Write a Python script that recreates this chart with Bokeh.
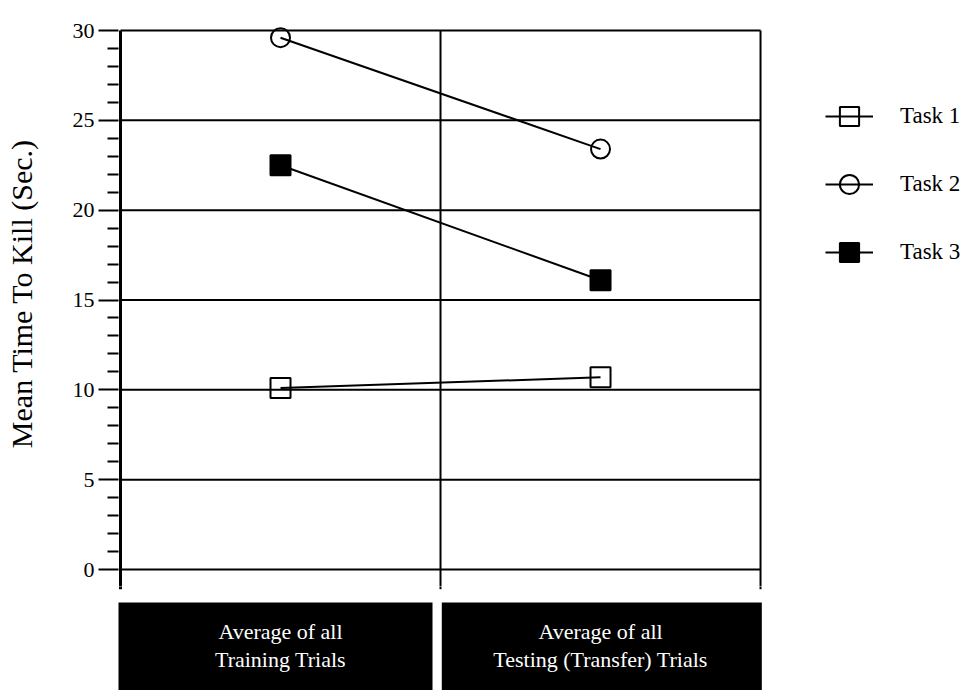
from bokeh.plotting import figure
from bokeh.layouts import column
from bokeh.models import Range1d, FixedTicker, Legend, LegendItem
from bokeh.embed import file_html
from bokeh.resources import INLINE
from bokeh.core.properties import value

# ---- data ----
categories = ["Average of all\nTraining Trials", "Average of all\nTesting (Transfer) Trials"]
task1 = [10.1, 10.7]
task2 = [29.6, 23.4]
task3 = [22.5, 16.1]
series_names = ["Task 1", "Task 2", "Task 3"]
y_ticks = [0, 5, 10, 15, 20, 25, 30]
y_minor = [v for v in range(0, 31) if v % 5]
y_title = "Mean Time To Kill (Sec.)"

FONT = "Liberation Serif"
n = len(categories)
x_pos = [i + 0.5 for i in range(n)]
bounds = list(range(n + 1))

PX = 17.97       # pixels per unit on the y scale
MAIN_H = 586
STRIP_H = 690 - MAIN_H
x_range = Range1d(-0.00625, 2.653)
SPLIT = -(MAIN_H - 569) / PX   # value where the main chart ends and the category strip begins
DROP = -1.1                    # how far the boundary tick marks reach below zero

# ---- main chart ----
p = figure(width=969, height=MAIN_H, output_backend="svg", toolbar_location=None,
           x_range=x_range, y_range=Range1d(SPLIT, 31.67),
           x_axis_location=None,
           min_border_left=118, min_border_right=0, min_border_top=0, min_border_bottom=0)
p.outline_line_color = None
p.background_fill_color = "white"
p.border_fill_color = "white"
for g in p.xgrid:
    g.visible = False
for g in p.ygrid:
    g.visible = False

ax = p.yaxis[0]
ax.ticker = FixedTicker(ticks=y_ticks, minor_ticks=y_minor)
ax.axis_line_color = None
ax.major_tick_out = 20
ax.major_tick_in = 0
ax.major_tick_line_width = 2
ax.major_tick_line_color = "black"
ax.minor_tick_out = 11
ax.minor_tick_in = 0
ax.minor_tick_line_width = 2
ax.minor_tick_line_color = "black"
ax.major_label_text_color = "black"
ax.major_label_text_font = FONT
ax.major_label_text_font_size = "22px"
ax.major_label_standoff = 4
ax.axis_label = y_title
ax.axis_label_text_font = FONT
ax.axis_label_text_font_size = "30px"
ax.axis_label_text_font_style = "normal"
ax.axis_label_text_color = "black"
ax.axis_label_standoff = 32

# horizontal grid lines at the major ticks, across the plotting area
p.segment(x0=[bounds[0]] * len(y_ticks), y0=y_ticks, x1=[bounds[-1]] * len(y_ticks), y1=y_ticks,
          line_color="black", line_width=2)
# vertical lines: y axis line, category separator, right border
p.segment(x0=bounds, y0=[DROP] * len(bounds), x1=bounds, y1=[y_ticks[-1]] * len(bounds),
          line_color="black", line_width=[3] + [2] * (len(bounds) - 1))

items = []
for name, vals, marker, fill, sz in zip(series_names, [task1, task2, task3],
                                        ["square", "circle", "square"],
                                        [None, None, "black"], [20, 19, 20]):
    l = p.line(x_pos, vals, line_color="black", line_width=2)
    s = p.scatter(x_pos, vals, marker=marker, size=sz, fill_color=fill,
                  line_color="black", line_width=2)
    items.append(LegendItem(label=name, renderers=[l, s]))

legend = Legend(items=items, location=(707, MAIN_H - 278), orientation="vertical",
                glyph_width=48, glyph_height=52, label_height=52, spacing=16,
                padding=0, margin=0, label_standoff=27,
                label_text_font=FONT, label_text_font_size="23px", label_text_color="black",
                border_line_color=None, background_fill_alpha=0)
p.add_layout(legend, "center")

# ---- category boxes below the axis ----
pb = figure(width=969, height=STRIP_H, output_backend="svg", toolbar_location=None,
            x_range=x_range, y_range=Range1d(SPLIT - STRIP_H / PX, SPLIT),
            x_axis_location=None, y_axis_location=None,
            min_border_left=118, min_border_right=0, min_border_top=0, min_border_bottom=0)
pb.outline_line_color = None
pb.grid.visible = False
pb.background_fill_color = "white"
pb.border_fill_color = "white"
# downward tick marks at the category boundaries (continuing from the chart above)
pb.segment(x0=bounds, y0=[0] * len(bounds), x1=bounds, y1=[DROP] * len(bounds),
           line_color="black", line_width=[3] + [2] * (len(bounds) - 1))
lefts = [i - 0.05 if i == 0 else i + 0.004 for i in range(n)]
rights = [i + 0.975 if i < n - 1 else i + 1.004 for i in range(n)]
pb.quad(left=lefts, right=rights, top=[-1.84] * n, bottom=[-7.0] * n,
        fill_color="black", line_color=None)
pb.text(x=x_pos, y=[-4.23] * n, text=categories, text_color="white",
        text_align="center", text_baseline="middle",
        text_font=value(FONT), text_font_size="22px", text_line_height=1.1)

layout = column(p, pb, spacing=0)
open("out.html", "w").write(file_html(layout, INLINE))
